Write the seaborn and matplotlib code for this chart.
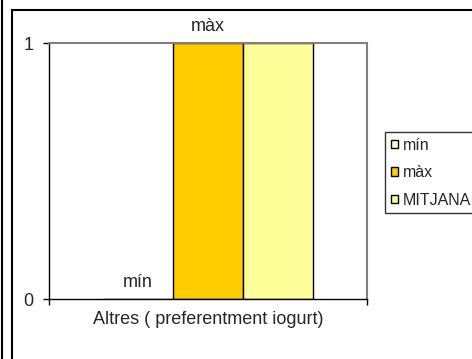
import matplotlib
matplotlib.use("Agg")
import matplotlib.pyplot as plt
import seaborn as sns
import pandas as pd
from matplotlib.patches import Rectangle
from matplotlib.lines import Line2D

# data
categories = ["Altres ( preferentment iogurt)"]
series = ["mín", "màx", "MITJANA"]
values = [0, 1, 1]
colors = ["#FFFFCC", "#FFCC00", "#FFFF99"]
y_ticks = [0, 1]

df = pd.DataFrame({
    "cat": categories * len(series),
    "serie": series,
    "valor": values,
})

sns.set_style("white")
plt.rcParams["font.family"] = ["Liberation Sans", "DejaVu Sans"]
plt.rcParams["font.size"] = 13

W, H = 472, 359
fig = plt.figure(figsize=(W / 100, H / 100), dpi=100)

# chart-area frame (only top/left visible) and outer left rule
fig.patches.append(Rectangle((12 / W, -0.1), 1.2, (H - 10) / H + 0.1,
                             transform=fig.transFigure, fill=False,
                             edgecolor="black", linewidth=1.5))
fig.lines.append(Line2D([2 / W, 2 / W], [0, 1], transform=fig.transFigure,
                        color="black", linewidth=1.5))

ax = fig.add_axes([49 / W, 60 / H, 318 / W, 256 / H])
sns.barplot(data=df, x="cat", y="valor", hue="serie", palette=colors,
            saturation=1, width=0.66, edgecolor="black", linewidth=1,
            ax=ax, legend=False)

ax.set_xlim(-0.5, 0.5)
ax.set_ylim(0, 1)
ax.set_yticks(y_ticks)
ax.set_xlabel("")
ax.set_ylabel("")

# series-name labels on first two series
for cont, name in zip(ax.containers[:2], series[:2]):
    ax.bar_label(cont, labels=[name], padding=6, clip_on=False)

ax.tick_params(axis="y", left=True, length=4, width=1, color="black", pad=7)
ax.tick_params(axis="x", which="major", bottom=False, pad=5)
ax.set_xticks([-0.5, 0.5], minor=True)
ax.tick_params(axis="x", which="minor", bottom=True, length=4, width=1,
               color="black")

for s in ["left", "bottom"]:
    ax.spines[s].set_color("black")
    ax.spines[s].set_linewidth(1)
for s in ["top", "right"]:
    ax.spines[s].set_color("#808080")
    ax.spines[s].set_linewidth(1.5)

handles = [Rectangle((0, 0), 1, 1, facecolor=c, edgecolor="black", linewidth=1)
           for c in colors]
leg = fig.legend(handles, series, loc="upper left",
                 bbox_to_anchor=(385 / W, 1 - 132 / H),
                 frameon=True, fancybox=False, fontsize=11.5,
                 handlelength=0.45, handleheight=0.45, handletextpad=0.3,
                 borderpad=0.35, labelspacing=0.78, borderaxespad=0)
leg.get_frame().set_edgecolor("black")
leg.get_frame().set_linewidth(1)

fig.savefig("out.png", dpi=100)
